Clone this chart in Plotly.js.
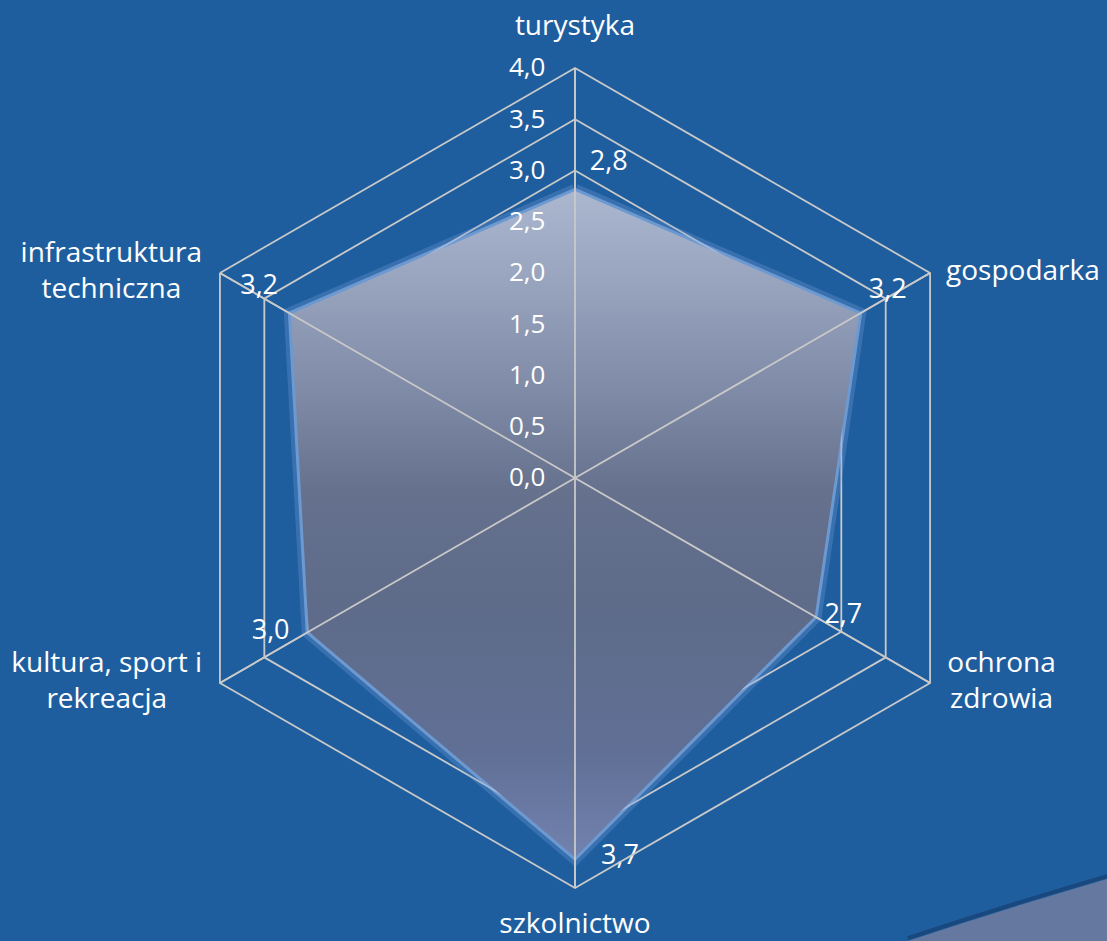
<!DOCTYPE html>
<html>
<head>
<meta charset="utf-8">
<script src="https://cdn.plot.ly/plotly-3.0.1.min.js"></script>
<style>html,body{margin:0;padding:0;background:#1F5E9E;}#chart{width:1107px;height:941px;}</style>
</head>
<body>
<div id="chart"></div>
<script>
// ---- data ----
const categories = ['turystyka', 'gospodarka', 'ochrona<br>zdrowia', 'szkolnictwo', 'kultura, sport i<br>rekreacja', 'infrastruktura<br>techniczna'];
const values = [2.8, 3.2, 2.7, 3.7, 3.0, 3.2];
const radialMax = 4.0;
const radialStep = 0.5;

// ---- label placement (style only) ----
const valueLabelPos = ['top right', 'top right', 'middle right', 'middle right', 'middle left', 'top left'];
const valueLabelPad = [22, 14, 14, 40, 29, 19];        // invisible marker size -> text offset
const catLabelPos = ['top center', 'middle right', 'middle right', 'bottom center', 'middle left', 'middle left'];
const catLabelPad = [40, 24, 26, 36, 27, 27];

const fmt = v => v.toFixed(1).replace('.', ',');
const closedTheta = categories.concat([categories[0]]);
const closedR = values.concat([values[0]]);

const gridCol = '#C9C9C9';
const font = 'Open Sans, Lato, sans-serif';

// spokes drawn above the filled area
const spokeR = [], spokeT = [];
categories.forEach(c => { spokeR.push(0, radialMax, null); spokeT.push(c, c, null); });

const traces = [
  { type: 'scatterpolar', r: closedR, theta: closedTheta, mode: 'lines',
    line: { color: 'rgba(120,160,220,0.30)', width: 14 }, hoverinfo: 'skip', showlegend: false },
  { type: 'scatterpolar', r: closedR, theta: closedTheta, mode: 'lines',
    line: { color: 'rgba(145,180,232,0.6)', width: 6 }, hoverinfo: 'skip', showlegend: false },
  { type: 'scatterpolar', r: closedR, theta: closedTheta, mode: 'lines', fill: 'toself',
    fillcolor: '#74819F',
    line: { width: 0 }, hoverinfo: 'skip', showlegend: false },
  { type: 'scatterpolar', r: spokeR, theta: spokeT, mode: 'lines',
    line: { color: gridCol, width: 1.8 }, hoverinfo: 'skip', showlegend: false, connectgaps: false },
  { type: 'scatterpolar', r: values, theta: categories, mode: 'markers+text', cliponaxis: false,
    marker: { size: valueLabelPad, color: 'rgba(0,0,0,0)', line: { width: 0, color: 'rgba(0,0,0,0)' } },
    text: values.map(fmt), textposition: valueLabelPos,
    textfont: { color: '#FFFFFF', size: 27, family: font }, hoverinfo: 'skip', showlegend: false },
  { type: 'scatterpolar', r: categories.map(() => radialMax), theta: categories, mode: 'markers+text', cliponaxis: false,
    marker: { size: catLabelPad, color: 'rgba(0,0,0,0)', line: { width: 0, color: 'rgba(0,0,0,0)' } },
    text: categories, textposition: catLabelPos,
    textfont: { color: '#FFFFFF', size: 28, family: font }, hoverinfo: 'skip', showlegend: false }
];

const layout = {
  width: 1107, height: 941,
  margin: { l: 0, r: 0, t: 0, b: 0 },
  paper_bgcolor: '#1F5E9E',
  separators: ', ',
  showlegend: false,
  font: { family: font, color: '#FFFFFF' },
  polar: {
    domain: { x: [165 / 1107, 985 / 1107], y: [53 / 941, 873 / 941] },
    bgcolor: 'rgba(0,0,0,0)',
    gridshape: 'linear',
    radialaxis: {
      range: [0, radialMax], dtick: radialStep, tickformat: '.1f', angle: 90, tickangle: 90,
      side: 'counterclockwise',
      showline: false, gridcolor: gridCol, gridwidth: 1.8,
      ticks: 'outside', ticklen: 20, tickcolor: 'rgba(0,0,0,0)',
      tickfont: { color: '#FFFFFF', size: 26, family: font }
    },
    angularaxis: {
      rotation: 90, direction: 'clockwise',
      showline: true, linecolor: gridCol, linewidth: 1.8,
      gridcolor: gridCol, gridwidth: 1.8,
      showticklabels: false, ticks: ''
    }
  },
  shapes: [
    { type: 'path', xref: 'paper', yref: 'paper', layer: 'below',
      path: 'M 0.820,0 Q 0.91,0.035 1.0,0.0660 L 1.0,0 Z',
      fillcolor: '#6478A0', line: { width: 0 } },
    { type: 'path', xref: 'paper', yref: 'paper', layer: 'below',
      path: 'M 0.820,0.003 Q 0.91,0.038 1.0,0.0690',
      line: { color: 'rgba(20,55,100,0.55)', width: 4 } }
  ]
};

Plotly.newPlot('chart', traces, layout, { staticPlot: true, displayModeBar: false }).then(gd => {
  // vertical gradient for the filled area (paint only; the shape is drawn by Plotly)
  const svg = gd.querySelector('.main-svg');
  const ns = 'http://www.w3.org/2000/svg';
  let defs = svg.querySelector('defs');
  if (!defs) { defs = document.createElementNS(ns, 'defs'); svg.insertBefore(defs, svg.firstChild); }
  const grad = document.createElementNS(ns, 'linearGradient');
  grad.setAttribute('id', 'areaGrad');
  grad.setAttribute('x1', '0'); grad.setAttribute('y1', '0');
  grad.setAttribute('x2', '0'); grad.setAttribute('y2', '1');
  [[0, '#ABB7CF'], [0.16, '#95A1BB'], [0.31, '#7D89A5'], [0.45, '#65718D'], [0.62, '#5E6B89'], [0.84, '#606F95'], [1, '#7282AE']]
    .forEach(([o, c]) => {
      const s = document.createElementNS(ns, 'stop');
      s.setAttribute('offset', o); s.setAttribute('stop-color', c);
      grad.appendChild(s);
    });
  defs.appendChild(grad);
  const tr = gd.querySelectorAll('.polarlayer .trace.scatter');
  const fillPath = tr[2] && tr[2].querySelector('.js-fill');
  if (fillPath) fillPath.style.fill = 'url(#areaGrad)';

  // centre the lines of multi-line category labels within their block
  if (tr[5]) {
    tr[5].querySelectorAll('text').forEach(t => {
      const spans = t.querySelectorAll('tspan.line');
      if (spans.length < 2) return;
      const bb = t.getBBox();
      const cx = bb.x + bb.width / 2;
      t.setAttribute('text-anchor', 'middle');
      t.setAttribute('x', cx);
      spans.forEach(s => s.setAttribute('x', cx));
    });
  }
});
</script>
</body>
</html>
